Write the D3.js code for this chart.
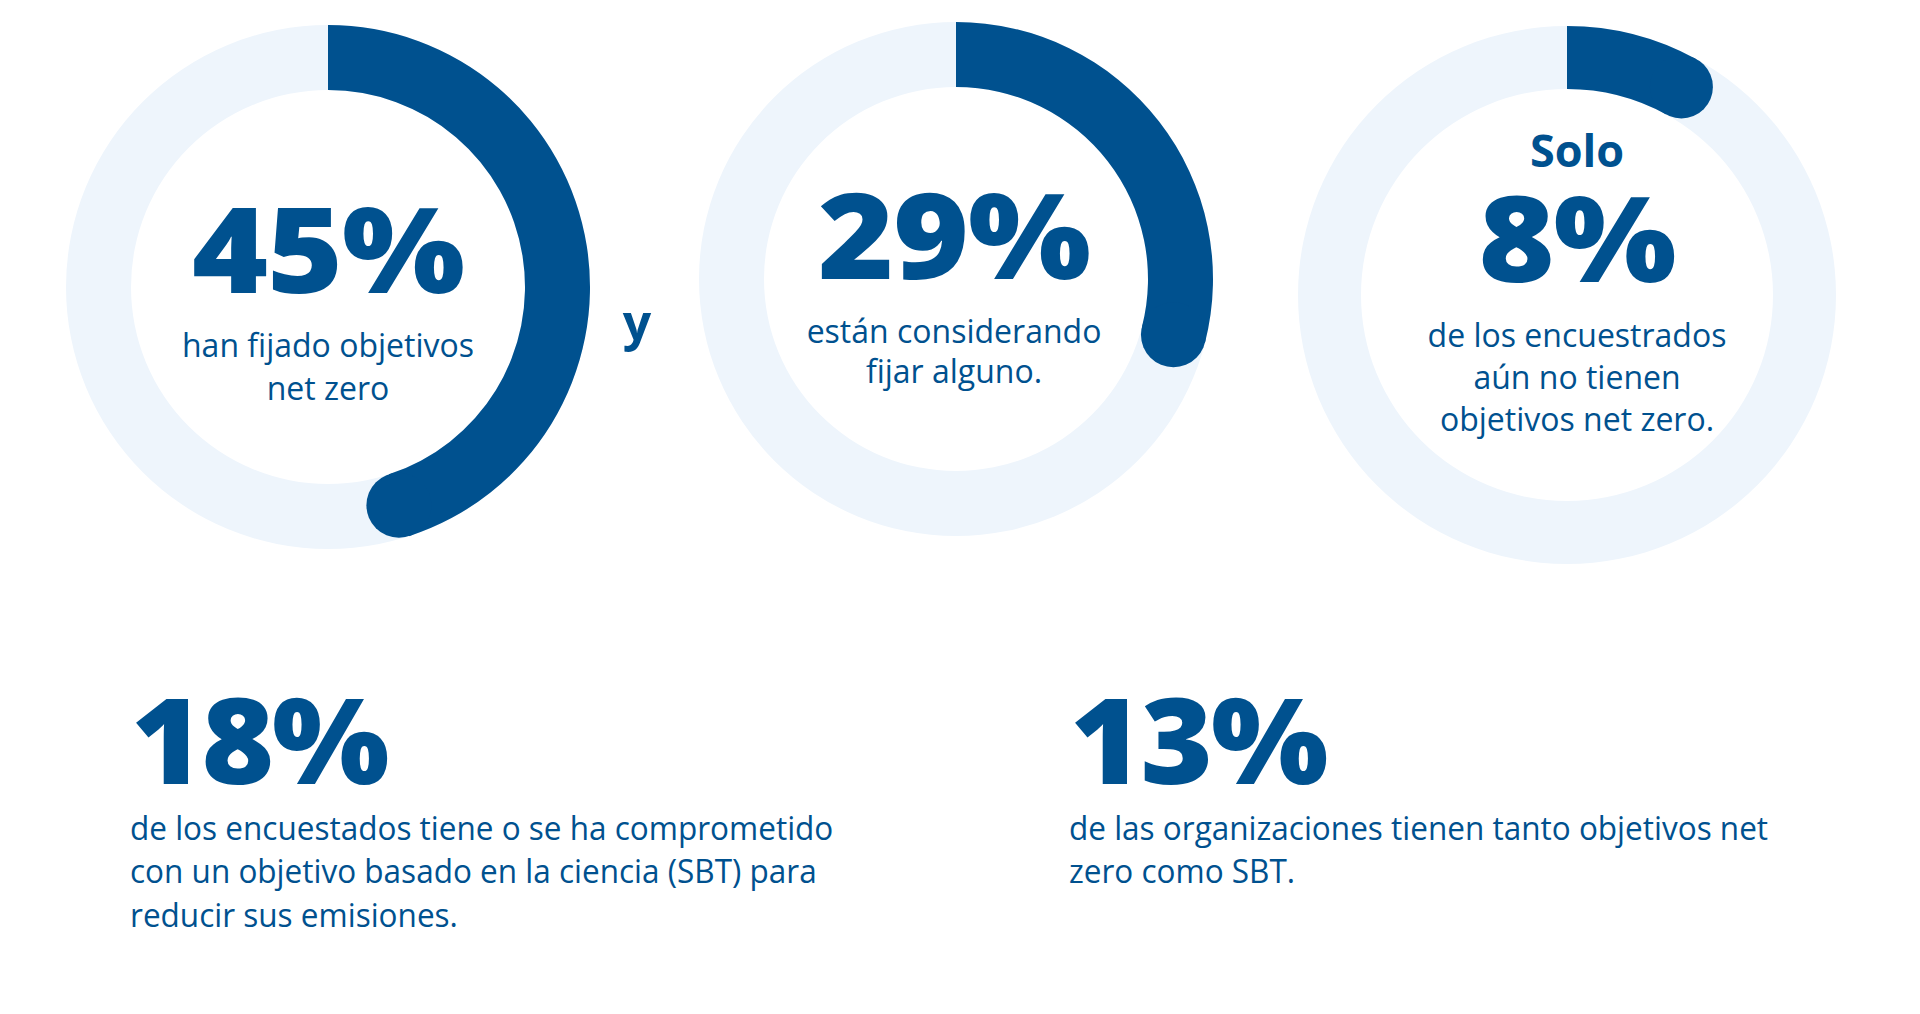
<!DOCTYPE html>
<html>
<head>
<meta charset="utf-8">
<script src="https://cdn.jsdelivr.net/npm/d3@7"></script>
<style>
  body { margin: 0; background: #fff; }
  svg { display: block; font-family: "Open Sans", "Noto Sans", sans-serif; }
</style>
</head>
<body>
<div id="visualization"></div>
<script>
// values
const ringValues = [45, 29, 8];
const ringLeads = ["", "", "Solo"];
const ringLabels = [
    ["han fijado objetivos", "net zero"],
    ["están considerando", "fijar alguno."],
    ["de los encuestrados", "aún no tienen", "objetivos net zero."]
];
const joinWord = "y";
const statValues = [18, 13];
const statLabels = [
    ["de los encuestados tiene o se ha comprometido",
     "con un objetivo basado en la ciencia (SBT) para",
     "reducir sus emisiones."],
    ["de las organizaciones tienen tanto objetivos net",
     "zero como SBT."]
];

const width = 1920, height = 1014;
const dark = "#00518f", light = "#eef5fc";

// where each ring sits
const rings = [
    { cx: 328, cy: 287, outer: 262, inner: 197, tx: 0 },
    { cx: 956, cy: 279, outer: 257, inner: 192, tx: -2 },
    { cx: 1567, cy: 295, outer: 269, inner: 206, tx: 10 }
];

const svg = d3.select("#visualization")
    .append("svg")
        .attr("width", width)
        .attr("height", height);

const angle = d3.scaleLinear().domain([0, 100]).range([0, 2 * Math.PI]);

const ringG = svg.selectAll("g.ring")
    .data(ringValues.map((v, i) => ({ value: v, lead: ringLeads[i], label: ringLabels[i], pos: rings[i] })))
    .join("g")
        .attr("class", "ring")
        .attr("transform", d => `translate(${d.pos.cx},${d.pos.cy})`);

// background track
ringG.append("path")
    .attr("d", d => d3.arc()
        .innerRadius(d.pos.inner)
        .outerRadius(d.pos.outer)
        .startAngle(0)
        .endAngle(2 * Math.PI)())
    .attr("fill", light);

// value arc, flat start
ringG.append("path")
    .attr("d", d => d3.arc()
        .innerRadius(d.pos.inner)
        .outerRadius(d.pos.outer)
        .startAngle(0)
        .endAngle(angle(d.value))())
    .attr("fill", dark);

// rounded end
ringG.append("circle")
    .attr("cx", d => Math.sin(angle(d.value)) * (d.pos.inner + d.pos.outer) / 2)
    .attr("cy", d => -Math.cos(angle(d.value)) * (d.pos.inner + d.pos.outer) / 2)
    .attr("r", d => (d.pos.outer - d.pos.inner) / 2)
    .attr("fill", dark);

// texts inside rings
const numY = [6, 0, -13];
const labelY = [[70, 113], [64, 104], [52, 94, 136]];

const inner = ringG.append("g")
    .attr("transform", d => `translate(${d.pos.tx},0)`);

inner.append("text")
    .attr("y", -128)
    .attr("text-anchor", "middle")
    .attr("fill", dark)
    .style("font-size", "45px")
    .style("font-weight", 700)
    .text(d => d.lead);

inner.append("text")
    .attr("y", (d, i) => numY[i])
    .attr("transform", "scale(1.1,1)")
    .attr("text-anchor", "middle")
    .attr("fill", dark)
    .style("font-size", "118px")
    .style("font-weight", 800)
    .style("letter-spacing", "-1px")
    .text(d => d.value + "%");

inner.each(function (d, i) {
    d3.select(this).selectAll("text.sub")
        .data(d.label)
        .join("text")
            .attr("class", "sub")
            .attr("y", (t, j) => labelY[i][j])
            .attr("text-anchor", "middle")
            .attr("fill", dark)
            .style("font-size", "32px")
            .text(t => t);
});

svg.append("text")
    .attr("x", 637)
    .attr("y", 340)
    .attr("text-anchor", "middle")
    .attr("fill", dark)
    .style("font-size", "50px")
    .style("font-weight", 700)
    .text(joinWord);

// bottom stats
const stats = [{ x: 130, y: 784 }, { x: 1069, y: 784 }];

const statG = svg.selectAll("g.stat")
    .data(statValues.map((v, i) => ({ value: v, label: statLabels[i], pos: stats[i] })))
    .join("g")
        .attr("class", "stat")
        .attr("transform", d => `translate(${d.pos.x},${d.pos.y})`);

statG.append("text")
    .attr("x", 1)
    .attr("transform", "scale(1.05,1)")
    .attr("fill", dark)
    .style("font-size", "118px")
    .style("font-weight", 800)
    .style("letter-spacing", "-2px")
    .text(d => d.value + "%");

statG.each(function (d) {
    d3.select(this).append("g")
        .attr("transform", "scale(0.985,1)")
        .selectAll("text")
        .data(d.label)
        .join("text")
            .attr("y", (t, j) => 56 + j * 43.5)
            .attr("fill", dark)
            .style("font-size", "32px")
            .text(t => t);
});
</script>
</body>
</html>
